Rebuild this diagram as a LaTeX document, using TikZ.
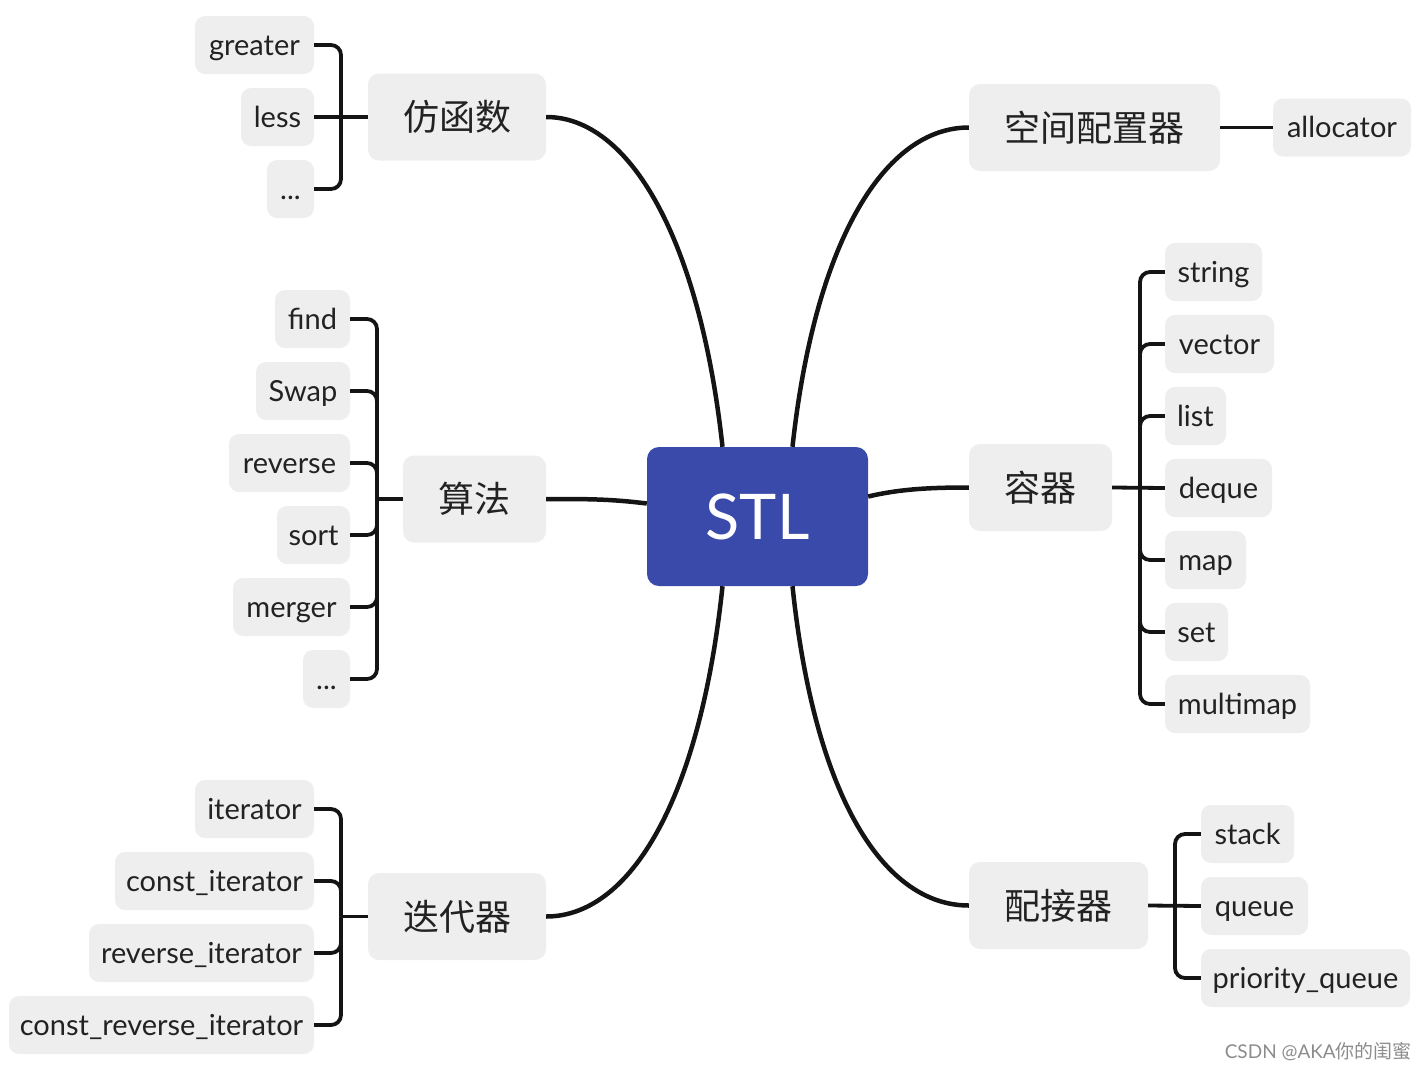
\documentclass[tikz,border=0pt]{standalone}
\usepackage{fontspec}
\setmainfont{Lato}
\newfontfamily\cjk{Noto Sans CJK SC}
\usetikzlibrary{calc}
\definecolor{boxgray}{HTML}{EEEEEE}
\definecolor{stlblue}{HTML}{3A4AAA}
\definecolor{linecol}{HTML}{141414}
\definecolor{txt}{HTML}{222222}
\tikzset{
  leaf/.style={fill=boxgray, rounded corners=10pt, inner sep=0pt, minimum height=58pt,
    text height=24pt, text depth=4pt,
    text=txt, font=\fontsize{29}{32}\selectfont},
  cat/.style={fill=boxgray, rounded corners=11pt, inner sep=0pt, minimum height=87pt,
    text=txt, font=\cjk\fontsize{36}{40}\selectfont},
  root/.style={fill=stlblue, rounded corners=12pt, inner sep=0pt, minimum width=221pt, minimum height=139pt,
    text=white, font=\fontsize{63}{66}\selectfont},
  mainline/.style={draw=linecol, line width=4.5pt},
  brline/.style={draw=linecol, line width=3.8pt, rounded corners=10pt},
}
\begin{document}
\begin{tikzpicture}[x=1pt,y=-1pt]
\useasboundingbox (0,0) rectangle (1428,1072);
% root
\node[root] (stl) at (757.5,516.5) {STL};
% categories
\node[cat, minimum width=178] (fhs) at (457,117) {仿函数};
\node[cat, minimum width=251] (kj) at (1094.5,127.5) {空间配置器};
\node[cat, minimum width=143] (sf) at (474.5,499) {算法};
\node[cat, minimum width=143] (rq) at (1040.5,487.5) {容器};
\node[cat, minimum width=178] (ddq) at (457,916.5) {迭代器};
\node[cat, minimum width=179] (pjq) at (1058.5,905.5) {配接器};
% leaves: functors
\node[leaf, minimum width=119] (greater) at (254.5,45) {greater};
\node[leaf, minimum width=73] (less) at (277.5,117) {less};
\node[leaf, minimum width=47] (fdots) at (290.5,189) {...};
% allocator
\node[leaf, minimum width=138] (alloc) at (1342,127.5) {allocator};
% containers
\node[leaf, minimum width=97] (string) at (1213.5,272) {string};
\node[leaf, minimum width=109] (vector) at (1219.5,344) {vector};
\node[leaf, minimum width=61] (list) at (1195.5,416) {list};
\node[leaf, minimum width=107] (deque) at (1218.5,488) {deque};
\node[leaf, minimum width=81] (map) at (1205.5,560) {map};
\node[leaf, minimum width=63] (set) at (1196.5,632) {set};
\node[leaf, minimum width=145] (multimap) at (1237.5,704) {multimap};
% algorithms
\node[leaf, minimum width=75] (find) at (312.5,319) {find};
\node[leaf, minimum width=94] (swap) at (303,391) {Swap};
\node[leaf, minimum width=121] (reverse) at (289.5,463) {reverse};
\node[leaf, minimum width=73] (sort) at (313.5,535) {sort};
\node[leaf, minimum width=117] (merger) at (291.5,607) {merger};
\node[leaf, minimum width=47] (adots) at (326.5,679) {...};
% iterators
\node[leaf, minimum width=119] (it) at (254.5,809) {iterator};
\node[leaf, minimum width=199] (cit) at (214.5,881) {const\_iterator};
\node[leaf, minimum width=225] (rit) at (201.5,953) {reverse\_iterator};
\node[leaf, minimum width=305] (crit) at (161.5,1025) {const\_reverse\_iterator};
% adapters
\node[leaf, minimum width=93] (stack) at (1247.5,834) {stack};
\node[leaf, minimum width=107] (queue) at (1254.5,906) {queue};
\node[leaf, minimum width=209] (pq) at (1305.5,978) {priority\_queue};
% watermark
\node[anchor=east, inner sep=0pt, text=black!45, font=\fontsize{19}{21}\selectfont] (wm) at (1412,1052) {CSDN @AKA{\cjk 你的闺蜜}};

% main connectors
\draw[mainline] ($(stl.north)+(-35,0)$) .. controls (700,240) and (630,117) .. (fhs.east);
\draw[mainline] ($(stl.north)+(35,0)$) .. controls (815,240) and (885,127.5) .. (kj.west);
\draw[mainline] ($(stl.west)+(0,-13)$) .. controls (610,499) and (590,499) .. (sf.east);
\draw[mainline] ($(stl.east)+(0,-20)$) .. controls (900,489) and (930,487.5) .. (rq.west);
\draw[mainline] ($(stl.south)+(-35,0)$) .. controls (700,800) and (630,916.5) .. (ddq.east);
\draw[mainline] ($(stl.south)+(35,0)$) .. controls (815,800) and (885,905.5) .. (pjq.west);

% functor bracket
\coordinate (jf) at (341,117);
\draw[brline] (fhs.west) -- (jf);
\draw[brline] (jf) |- (greater.east);
\draw[brline] (jf) |- (fdots.east);
\draw[brline] (jf) -- (less.east);
% allocator
\draw[brline] (kj.east) -- (alloc.west);
% container bracket
\coordinate (jc) at (1140,487.5);
\draw[brline] (rq.east) -- (deque.west);
\foreach \n in {string,vector,list,map,set,multimap}{\draw[brline] (jc) |- (\n.west);}
% algorithm bracket
\coordinate (ja) at (377,499);
\draw[brline] (sf.west) -- (ja);
\foreach \n in {find,swap,reverse,sort,merger,adots}{\draw[brline] (ja) |- (\n.east);}
% iterator bracket
\coordinate (ji) at (341,916.5);
\draw[brline] (ddq.west) -- (ji);
\foreach \n in {it,cit,rit,crit}{\draw[brline] (ji) |- (\n.east);}
% adapter bracket
\coordinate (jp) at (1175,905.5);
\draw[brline] (pjq.east) -- (queue.west);
\foreach \n in {stack,pq}{\draw[brline] (jp) |- (\n.west);}
\end{tikzpicture}
\end{document}
